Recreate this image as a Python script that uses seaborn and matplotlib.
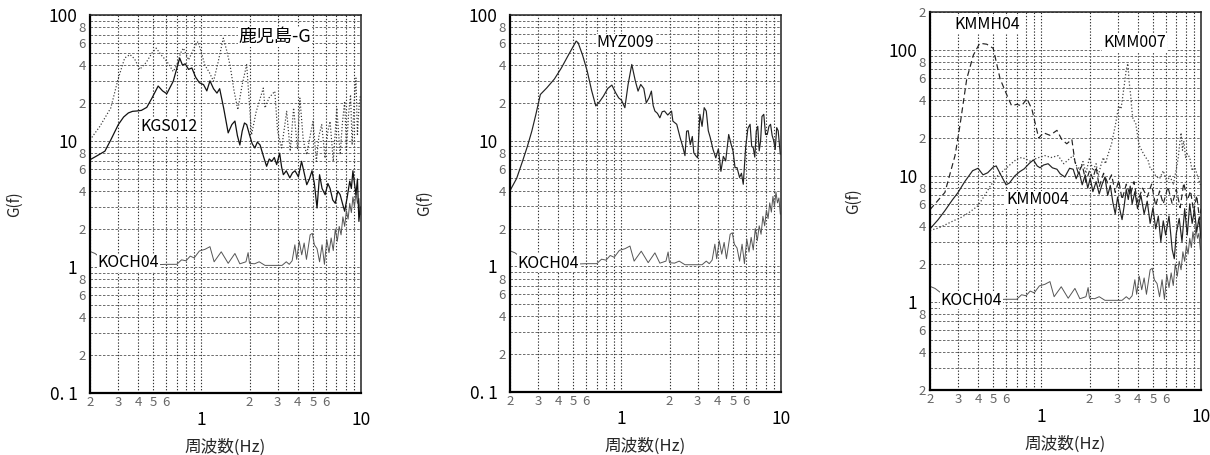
import numpy as np
import pandas as pd
import matplotlib
matplotlib.use("Agg")
import matplotlib.pyplot as plt
import matplotlib.ticker as mticker
import seaborn as sns

# ---------------- data ----------------
# reference station (same in all panels)
koch04_f = [0.2, 0.215, 0.23, 0.26, 0.3, 0.4, 0.5, 0.6, 0.7, 0.75, 0.8, 0.85, 0.9, 0.97, 1.05, 1.13,
            1.2, 1.33, 1.47, 1.62, 1.74, 1.9, 1.96, 2.0, 2.15, 2.3, 2.5, 2.8, 3.2, 3.4, 3.55, 3.7,
            3.85, 3.95, 4.1, 4.25, 4.4, 4.55, 4.8, 4.95, 5.1, 5.3, 5.5, 5.7, 5.9, 6.1, 6.3, 6.5,
            6.7, 6.9, 7.1, 7.3, 7.5, 7.7, 7.9, 8.1, 8.3, 8.5, 8.7, 8.9, 9.1, 9.3, 9.5, 9.7, 9.9]
koch04_g = [1.33, 1.28, 1.2, 1.08, 1.03, 1.02, 1.04, 1.05, 1.05, 1.14, 1.12, 1.22, 1.18, 1.34, 1.38, 1.45,
            1.1, 1.32, 1.07, 1.28, 1.06, 1.1, 1.3, 1.07, 1.06, 1.1, 1.03, 1.03, 1.03, 1.1, 1.05, 1.12,
            1.5, 1.15, 1.6, 1.25, 1.55, 1.15, 1.8, 1.85, 1.5, 1.4, 1.1, 1.5, 1.05, 1.65, 1.3, 1.7,
            1.35, 2.0, 1.6, 2.1, 1.8, 2.5, 2.1, 2.8, 2.4, 3.2, 2.7, 3.6, 3.0, 3.9, 3.2, 3.5, 2.6]

# panel 1: 鹿児島-G
kgs012_f = [0.2, 0.22, 0.248, 0.27, 0.301, 0.325, 0.348, 0.37, 0.392, 0.42, 0.454, 0.49, 0.535, 0.57,
            0.606, 0.665, 0.73, 0.76, 0.79, 0.83, 0.87, 0.92, 0.97, 1.03, 1.08, 1.13, 1.19, 1.25, 1.3,
            1.38, 1.47, 1.55, 1.62, 1.68, 1.74, 1.8, 1.86, 1.92, 2.0, 2.08, 2.16, 2.24, 2.33, 2.45,
            2.56, 2.66, 2.76, 2.86, 2.96, 3.09, 3.18, 3.26, 3.4, 3.58, 3.72, 3.86, 4.05, 4.24, 4.4,
            4.57, 4.75, 4.93, 5.1, 5.3, 5.5, 5.7, 5.96, 6.2, 6.4, 6.65, 6.9, 7.15, 7.4, 7.65, 7.9,
            8.2, 8.5, 8.7, 8.9, 9.1, 9.3, 9.5, 9.7, 9.9]
kgs012_g = [7.1, 7.6, 8.3, 10.2, 13.5, 15.5, 16.7, 17.2, 17.3, 17.5, 18.5, 22, 27.3, 25,
            23.7, 29.8, 45.5, 40, 41, 37, 38, 32, 29, 28, 25, 30, 26, 24, 26,
            18, 11.6, 13.5, 14.4, 11, 9.3, 12, 13.9, 13.5, 11.2, 9.5, 8.8, 9.8, 9.3, 7.5,
            6.3, 7.2, 6.9, 7.4, 6.5, 8.0, 6.2, 5.4, 5.8, 5.1, 5.6, 5.8, 5.2, 6.9, 5.6,
            4.5, 5.0, 5.8, 4.6, 2.94, 5.4, 4.2, 3.75, 4.6, 4.2, 3.4, 3.2, 4.0, 3.75, 3.2, 2.77,
            3.6, 4.8, 4.2, 5.8, 4.6, 3.75, 5.0, 2.3, 3.0]

kgs_dot_f = [0.2, 0.23, 0.27, 0.3, 0.33, 0.356, 0.38, 0.41, 0.45, 0.49, 0.52, 0.56, 0.606, 0.665,
             0.7, 0.74, 0.77, 0.83, 0.9, 0.95, 1.0, 1.05, 1.12, 1.19, 1.27, 1.37, 1.44, 1.51, 1.6,
             1.69, 1.8, 1.92, 2.06, 2.2, 2.44, 2.5, 2.65, 2.88, 3.0, 3.18, 3.42, 3.6, 3.78, 4.0,
             4.14, 4.35, 4.57, 4.8, 5.0, 5.25, 5.45, 5.67, 5.95, 6.2, 6.4, 6.7, 6.9, 7.05, 7.4,
             7.65, 7.9, 8.1, 8.35, 8.6, 8.8, 9.05, 9.3, 9.5, 9.7, 9.9]
kgs_dot_g = [10.2, 13, 18.3, 31, 45.6, 48.5, 45, 37, 42, 50, 54.6, 48, 42.9, 35.6,
             40, 50, 54.6, 44, 55, 61.6, 50, 40, 35, 29.8, 42, 65.5, 52, 40, 25,
             17.7, 28, 40.4, 11.2, 17, 26.3, 18.3, 22, 24.8, 12, 8.8, 17.2, 8.3, 18.3, 8.6,
             21.9, 10, 7.8, 11, 14.3, 6.9, 11, 13.5, 7.3, 12, 14.3, 6.9, 12, 18.3, 7.8,
             14, 20.7, 8.3, 16, 23.3, 9.3, 20, 31.6, 11, 18, 23]

# panel 2: MYZ009
myz009_f = [0.2, 0.22, 0.24, 0.257, 0.274, 0.29, 0.31, 0.34, 0.38, 0.42, 0.46, 0.52, 0.535, 0.57,
            0.61, 0.65, 0.69, 0.73, 0.77, 0.82, 0.87, 0.92, 0.96, 1.0, 1.05, 1.1, 1.16, 1.22, 1.27,
            1.32, 1.38, 1.43, 1.49, 1.54, 1.58, 1.62, 1.68, 1.74, 1.8, 1.86, 1.95, 2.06, 2.1, 2.22,
            2.33, 2.42, 2.5, 2.56, 2.62, 2.7, 2.78, 2.84, 2.92, 3.0, 3.1, 3.2, 3.3, 3.4, 3.5, 3.6,
            3.75, 3.9, 4.05, 4.2, 4.35, 4.5, 4.7, 4.85, 5.0, 5.15, 5.3, 5.5, 5.65, 5.8, 6.0, 6.2,
            6.4, 6.55, 6.7, 6.85, 7.0, 7.15, 7.3, 7.45, 7.6, 7.8, 8.0, 8.2, 8.4, 8.6, 8.8, 9.0,
            9.2, 9.4, 9.6, 9.9]
myz009_g = [4.0, 5.0, 6.9, 9.0, 11.9, 16, 23.3, 26.3, 31, 37.9, 46.9, 62, 60, 48,
            35.7, 25, 18.9, 20.5, 22.6, 26, 27.7, 24, 21.9, 21, 18.3, 28, 40.4, 30, 24.8,
            28, 26, 20, 22, 24.8, 19, 17.2, 16.5, 15.2, 17, 17.2, 16, 17.2, 14.3, 13.5,
            10.6, 9, 7.6, 11.9, 12, 9.3, 10.8, 8.0, 7.6, 7.3, 16.2, 13, 18.3, 17.2, 12, 10.6,
            8.5, 7.3, 8.6, 5.7, 7.5, 6.9, 11.2, 9.5, 8.3, 6.1, 6.1, 5.1, 5.5, 4.5, 8.8, 12.5,
            13.5, 9, 8.8, 7.4, 11.9, 13, 8.3, 10, 15.6, 16.2, 11.2, 11.2, 13, 13.5, 11, 10,
            8.5, 12.7, 12, 7.8]

# panel 3: KMMH04 / KMM007 / KMM004
kmmh04_f = [0.2, 0.248, 0.287, 0.308, 0.34, 0.374, 0.41, 0.454, 0.498, 0.55, 0.606, 0.65, 0.7,
            0.75, 0.81, 0.87, 0.96, 1.03, 1.13, 1.25, 1.34, 1.44, 1.55, 1.62, 1.7, 1.8, 1.9, 2.0,
            2.1, 2.2, 2.3, 2.45, 2.6, 2.75, 2.9, 3.05, 3.2, 3.4, 3.6, 3.8, 4.0, 4.3, 4.6, 4.9,
            5.2, 5.5, 5.8, 6.2, 6.6, 7.0, 7.4, 7.8, 8.2, 8.6, 9.0, 9.4, 9.8, 10.0]
kmmh04_g = [5.4, 7.4, 14.5, 25, 59, 91, 113, 111, 103, 59, 44, 36, 37,
            36, 41, 34, 20, 22, 21, 23, 19.5, 18, 19.5, 13, 10.5, 12.2, 9.0, 11.0,
            9.5, 11.8, 8.2, 10.5, 8.8, 10.2, 7.4, 9.2, 6.5, 8.6, 7.0, 9.0, 6.2, 8.0, 6.8, 8.6,
            5.8, 7.6, 6.0, 8.2, 6.0, 7.8, 5.6, 8.8, 6.4, 7.6, 5.2, 7.0, 4.5, 5.5]

kmm007_f = [0.2, 0.225, 0.25, 0.28, 0.315, 0.35, 0.4, 0.44, 0.48, 0.53, 0.59, 0.65, 0.7, 0.75, 0.8,
            0.86, 0.93, 1.0, 1.05, 1.15, 1.27, 1.38, 1.48, 1.58, 1.66, 1.74, 1.82, 1.9, 2.0, 2.1,
            2.2, 2.27, 2.35, 2.44, 2.52, 2.6, 2.75, 2.9, 3.05, 3.15, 3.2, 3.3, 3.4, 3.48, 3.55,
            3.62, 3.7, 3.75, 3.85, 3.9, 4.0, 4.1, 4.3, 4.5, 4.65, 4.8, 5.0, 5.2, 5.5, 5.8, 6.1,
            6.4, 6.7, 7.0, 7.2, 7.35, 7.5, 7.65, 7.8, 8.0, 8.2, 8.5, 8.8, 9.1, 9.5, 9.9]
kmm007_g = [3.7, 3.85, 4.1, 4.4, 4.7, 5.1, 5.8, 7.0, 8.4, 10.0, 11.3, 12.6, 13.6, 14.0, 13.6,
            13.0, 13.8, 14.2, 14.5, 14.0, 14.5, 12.5, 13.5, 14.5, 12.0, 11.3, 13.0, 10.5, 14.0, 11.0,
            12.5, 10.0, 12.0, 14.0, 12.5, 14.5, 18, 25, 36, 34, 39, 52, 70, 78, 55,
            44, 32, 28, 27, 26, 21, 17.4, 15.5, 14, 13.4, 11.5, 11, 10, 9.5, 11, 9.0,
            10, 8.5, 11.3, 14, 18, 22, 16, 19, 14, 15, 14, 11, 12, 10, 8.5]

kmm004_f = [0.2, 0.225, 0.248, 0.275, 0.3, 0.33, 0.37, 0.4, 0.43, 0.46, 0.5, 0.52, 0.56, 0.6, 0.63,
            0.68, 0.73, 0.78, 0.84, 0.89, 0.94, 0.98, 1.03, 1.1, 1.17, 1.25, 1.31, 1.4, 1.5, 1.58,
            1.65, 1.72, 1.8, 1.88, 1.95, 2.02, 2.1, 2.2, 2.3, 2.4, 2.5, 2.6, 2.7, 2.8, 2.9, 3.0,
            3.1, 3.2, 3.3, 3.4, 3.5, 3.6, 3.7, 3.85, 4.0, 4.2, 4.4, 4.6, 4.8, 5.0, 5.2, 5.4, 5.6,
            5.8, 6.0, 6.3, 6.6, 6.8, 7.0, 7.3, 7.6, 7.9, 8.2, 8.5, 8.8, 9.1, 9.4, 9.7, 10.0]
kmm004_g = [3.8, 4.5, 5.3, 6.4, 7.4, 9.0, 11.0, 11.5, 10.2, 10.6, 11.8, 12.0, 10.0, 8.5, 8.8,
            10.0, 10.8, 11.4, 12.6, 13.4, 12.0, 11.6, 12.2, 12.5, 11.6, 11.3, 10.4, 9.8, 11.5, 11.3,
            9.5, 10.8, 8.5, 10.2, 8.0, 9.6, 7.5, 9.0, 7.2, 8.6, 9.8, 7.0, 8.4, 6.2, 5.0, 6.8,
            5.4, 4.5, 5.8, 7.8, 6.5, 8.3, 6.0, 7.5, 5.5, 7.0, 5.0, 6.3, 4.2, 5.6, 3.8, 4.8, 3.0,
            4.4, 3.4, 4.8, 2.6, 2.2, 3.5, 4.6, 3.0, 5.5, 3.4, 6.0, 4.2, 5.4, 3.6, 4.6, 3.2]

# ---------------- style ----------------
sns.set_theme(style="white")
FAM = ['Liberation Sans Narrow', 'Noto Sans CJK JP', 'DejaVu Sans']
plt.rcParams['font.family'] = FAM

fig = plt.figure(figsize=(12.1, 4.55), dpi=100)
positions = [
    [90 / 1210, 62 / 455, 271 / 1210, 378 / 455],
    [510 / 1210, 63 / 455, 271 / 1210, 377 / 455],
    [930 / 1210, 65 / 455, 271 / 1210, 378 / 455],
]
axes = [fig.add_axes(p) for p in positions]


def draw(ax, f, g, color, lw, ls):
    df = pd.DataFrame({"f": f, "g": g})
    sns.lineplot(data=df, x="f", y="g", ax=ax, color=color, linewidth=lw,
                 linestyle=ls, estimator=None, sort=False, legend=False)


def style_axes(ax, ymin, ymax, ymajor, ymajor_lbl, yminor, ylabel_x):
    ax.set_xscale('log')
    ax.set_yscale('log')
    ax.set_xlim(0.2, 10)
    ax.set_ylim(ymin, ymax)
    # x ticks
    ax.xaxis.set_major_locator(mticker.FixedLocator([1, 10]))
    ax.xaxis.set_major_formatter(mticker.FixedFormatter(["1", "10"]))
    xminor = [0.2, 0.3, 0.4, 0.5, 0.6, 0.7, 0.8, 0.9, 2, 3, 4, 5, 6, 7, 8, 9]
    xminor_lbl = ["2", "3", "4", "5", "6", "", "", "", "2", "3", "4", "5", "6", "", "", ""]
    ax.xaxis.set_minor_locator(mticker.FixedLocator(xminor))
    ax.xaxis.set_minor_formatter(mticker.FixedFormatter(xminor_lbl))
    # y ticks
    ax.yaxis.set_major_locator(mticker.FixedLocator(ymajor))
    ax.yaxis.set_major_formatter(mticker.FixedFormatter(ymajor_lbl))
    ylbl = []
    for v in yminor:
        m = v / 10 ** np.floor(np.log10(v) + 1e-9)
        d = int(round(m))
        ylbl.append(str(d) if d in (2, 4, 6, 8) else "")
    ax.yaxis.set_minor_locator(mticker.FixedLocator(yminor))
    ax.yaxis.set_minor_formatter(mticker.FixedFormatter(ylbl))

    ax.tick_params(which='major', axis='x', length=0, pad=13, labelsize=12.5, colors='black')
    ax.tick_params(which='minor', axis='x', length=0, pad=2, labelsize=9.5, labelcolor='#666666')
    ax.tick_params(which='major', axis='y', length=0, pad=9, labelsize=12.5, colors='black')
    ax.tick_params(which='minor', axis='y', length=0, pad=3, labelsize=9.5, labelcolor='#666666')

    ax.grid(True, which='both', axis='x', linestyle=(0, (1.2, 1.6)), linewidth=0.8, color='#333333')
    ax.grid(True, which='both', axis='y', linestyle=(0, (3, 2)), linewidth=0.6, color='#555555')
    ax.set_axisbelow(True)

    for s in ['left', 'bottom']:
        ax.spines[s].set_linewidth(1.6)
        ax.spines[s].set_color('black')
    for s in ['top', 'right']:
        ax.spines[s].set_linewidth(1.1)
        ax.spines[s].set_color('#222222')

    ax.set_xlabel("周波数(Hz)", fontsize=12, va='center', family=FAM)
    ax.xaxis.set_label_coords(0.5, -54 / 378)
    ax.set_ylabel("G(f)", fontsize=11, va='center', family=FAM)
    ax.yaxis.set_label_coords(ylabel_x, 0.5)


def label(ax, x, y, s, size=11.5):
    ax.text(x, y, s, transform=ax.transAxes, ha='center', va='center', fontsize=size,
            family=FAM, color='black',
            bbox=dict(facecolor='white', edgecolor='none', pad=0.6), zorder=5)


minor_std = [0.2, 0.3, 0.4, 0.5, 0.6, 0.7, 0.8, 0.9,
             2, 3, 4, 5, 6, 7, 8, 9,
             20, 30, 40, 50, 60, 70, 80, 90]

# panel 1
ax = axes[0]
draw(ax, koch04_f, koch04_g, '#555555', 0.7, '-')
draw(ax, kgs_dot_f, kgs_dot_g, '#333333', 0.85, ':')
draw(ax, kgs012_f, kgs012_g, '#111111', 0.9, '-')
style_axes(ax, 0.1, 100, [0.1, 1, 10, 100], ["0. 1", "1", "10", "100"], minor_std, -0.277)
label(ax, 0.683, 0.942, "鹿児島-G", 13)
label(ax, 0.29, 0.704, "KGS012")
label(ax, 0.142, 0.344, "KOCH04")

# panel 2
ax = axes[1]
draw(ax, koch04_f, koch04_g, '#555555', 0.7, '-')
draw(ax, myz009_f, myz009_g, '#222222', 0.85, '-')
style_axes(ax, 0.1, 100, [0.1, 1, 10, 100], ["0. 1", "1", "10", "100"], minor_std, -0.314)
label(ax, 0.426, 0.926, "MYZ009")
label(ax, 0.142, 0.342, "KOCH04")

# panel 3
ax = axes[2]
draw(ax, koch04_f, koch04_g, '#555555', 0.7, '-')
draw(ax, kmm007_f, kmm007_g, '#444444', 0.9, ':')
draw(ax, kmm004_f, kmm004_g, '#222222', 0.85, '-')
draw(ax, kmmh04_f, kmmh04_g, '#222222', 0.85, (0, (5, 3)))
minor_p3 = [0.2, 0.3, 0.4, 0.5, 0.6, 0.7, 0.8, 0.9,
            2, 3, 4, 5, 6, 7, 8, 9,
            20, 30, 40, 50, 60, 70, 80, 90, 200]
style_axes(ax, 0.2, 200, [1, 10, 100], ["1", "10", "100"], minor_p3, -0.284)
label(ax, 0.212, 0.966, "KMMH04")
label(ax, 0.755, 0.918, "KMM007")
label(ax, 0.397, 0.503, "KMM004")
label(ax, 0.153, 0.238, "KOCH04")

fig.savefig("out.png", dpi=100, facecolor='white')
